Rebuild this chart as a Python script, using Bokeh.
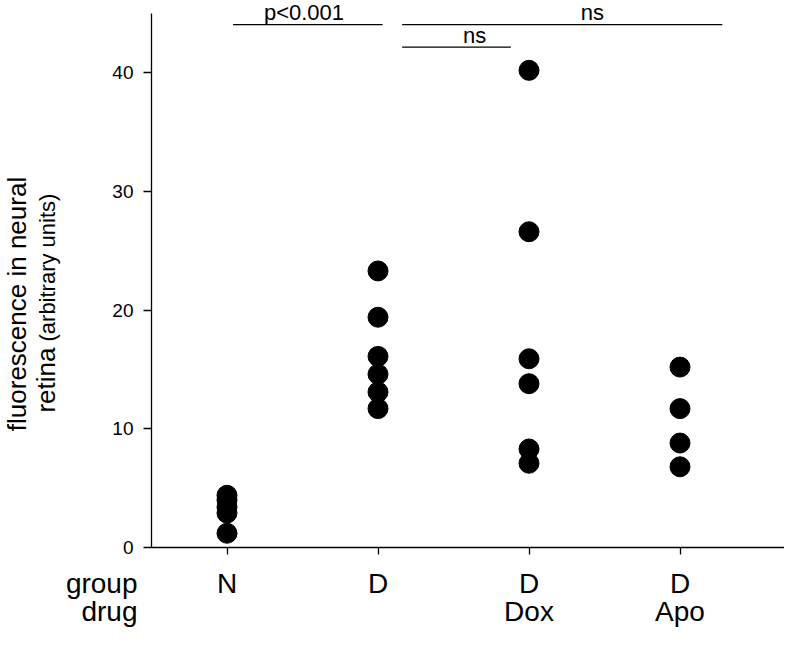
from bokeh.plotting import figure
from bokeh.models import Range1d, FixedTicker
from bokeh.embed import file_html
from bokeh.resources import INLINE
from bokeh.core.properties import value

# ---- data ----
positions = [1, 2, 3, 4]
groups = ["N", "D", "D", "D"]
drugs = ["", "", "Dox", "Apo"]
row_titles = ["group", "drug"]

n_vals = [4.4, 4.0, 3.4, 2.9, 1.2]
d_vals = [23.3, 19.4, 16.1, 14.6, 13.1, 11.7]
dox_vals = [40.2, 26.6, 15.9, 13.8, 8.3, 7.1]
apo_vals = [15.2, 11.7, 8.8, 6.8]
series = [n_vals, d_vals, dox_vals, apo_vals]

y_ticks = [0, 10, 20, 30, 40]
y_axis_top = 45

sig_starts = [1.04, 2.16, 2.16]
sig_ends = [2.03, 4.28, 2.88]
sig_levels = [44.05, 44.05, 42.15]
sig_labels = ["p<0.001", "ns", "ns"]
sig_label_x = [1.51, 3.42, 2.64]

# ---- layout constants (pixels) ----
FONT = "Liberation Sans"
W, H = 784, 630
LEFT = 151          # frame left edge
AX_Y = 547          # x-axis line position (frame bottom)
PPU = 11.87         # pixels per y unit
PPX = 151           # pixels per x unit
MID = 0.35          # text anchor sits this fraction of the font size above the baseline


def xpx(px):
    return 0.5 + (px - LEFT) / PPX


def ypx(px):
    return (AX_Y - px) / PPU


def base_y(px, size):
    # data y for a horizontal text whose baseline should be at pixel row px
    return ypx(px - MID * size)


def base_x(px, size):
    # data x for a CCW-rotated text whose baseline should be at pixel column px
    return xpx(px - MID * size)


p = figure(width=W, height=H, output_backend="svg", toolbar_location=None,
           x_range=Range1d(0.5, xpx(W)), y_range=Range1d(0, ypx(0)),
           min_border_left=LEFT, min_border_right=0, min_border_top=0,
           min_border_bottom=H - AX_Y)
p.outline_line_color = None
p.xgrid.visible = False
p.ygrid.visible = False
p.background_fill_color = "white"
p.border_fill_color = "white"

# points
xs, ys = [], []
for pos, vals in zip(positions, series):
    for v in vals:
        xs.append(pos)
        ys.append(v)
p.scatter(xs, ys, size=20, color="black")

# y axis
ya = p.yaxis[0]
ya.ticker = FixedTicker(ticks=y_ticks)
ya.bounds = (0, y_axis_top)
ya.axis_line_color = "black"
ya.axis_line_width = 1.3
ya.major_tick_line_color = "black"
ya.major_tick_line_width = 1.3
ya.major_tick_out = 8
ya.major_tick_in = 0
ya.minor_tick_line_color = None
ya.major_label_text_font = FONT
ya.major_label_text_font_size = "19px"
ya.major_label_text_color = "black"
ya.major_label_standoff = 10

# x axis (group row)
xa = p.xaxis[0]
xa.ticker = FixedTicker(ticks=positions)
xa.major_label_overrides = {pos: g for pos, g in zip(positions, groups)}
xa.axis_line_color = "black"
xa.axis_line_width = 1.3
xa.major_tick_line_color = "black"
xa.major_tick_line_width = 1.3
xa.major_tick_out = 7
xa.major_tick_in = 0
xa.minor_tick_line_color = None
xa.major_label_text_font = FONT
xa.major_label_text_font_size = "28px"
xa.major_label_text_color = "black"
xa.major_label_standoff = 13

TXT = dict(text_font=value(FONT), text_color="black", level="overlay",
           text_baseline="alphabetic")

# drug row
d_pos = [pos for pos, d in zip(positions, drugs) if d]
d_txt = [d for d in drugs if d]
p.text(x=d_pos, y=[base_y(621, 28)] * len(d_pos), text=d_txt, text_align="center",
       text_font_size="28px", **TXT)

# row titles
p.text(x=[xpx(137)] * 2, y=[base_y(593, 28), base_y(621, 28)], text=row_titles,
       text_align="right", text_font_size="28px", **TXT)

# y-axis title (two lines, mixed sizes)
ang = 1.5707963
p.text(x=[base_x(26, 26)], y=[ypx(303.5)], text=["fluorescence in neural"], angle=ang,
       text_align="center", text_font_size="26px", **TXT)
p.text(x=[base_x(55, 26)], y=[ypx(347)], text=["retina"], angle=ang,
       text_align="right", text_font_size="26px", **TXT)
p.text(x=[base_x(55, 22)], y=[ypx(341)], text=["(arbitrary units)"], angle=ang,
       text_align="left", text_font_size="22px", **TXT)

# significance bars
p.segment(x0=sig_starts, y0=sig_levels, x1=sig_ends, y1=sig_levels,
          line_color="black", line_width=1.3)
p.text(x=sig_label_x, y=[base_y(AX_Y - lv * PPU - 4, 22) for lv in sig_levels], text=sig_labels,
       text_align="center", text_font_size="22px", **TXT)

open("out.html", "w").write(file_html(p, INLINE))
